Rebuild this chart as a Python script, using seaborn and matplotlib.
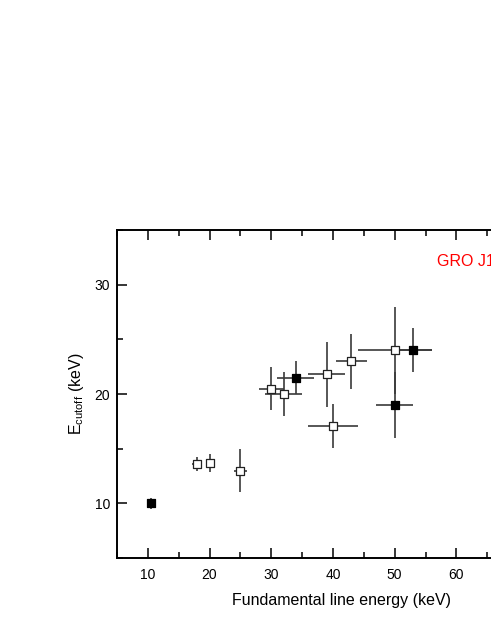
import matplotlib
matplotlib.use("Agg")
import matplotlib.pyplot as plt
import seaborn as sns
import pandas as pd
from matplotlib.ticker import MultipleLocator, FixedLocator

# filled squares
filled_x = [10.5, 34.0, 50.0, 53.0]
filled_xerr = [0.3, 3.0, 3.0, 3.0]
filled_y = [10.0, 21.5, 19.0, 24.0]
filled_yerr = [0.5, 1.5, 3.0, 2.0]

# open squares
open_x = [18.0, 20.0, 25.0, 30.0, 32.0, 39.0, 43.0, 40.0, 50.0]
open_xerr = [0.8, 0.5, 1.1, 2.0, 3.0, 3.0, 2.5, 4.0, 6.0]
open_y = [13.6, 13.7, 13.0, 20.5, 20.0, 21.8, 23.0, 17.1, 24.0]
open_yerr = [0.6, 0.85, 2.0, 2.0, 2.0, 3.0, 2.5, 2.0, 4.0]

x_major_ticks = [10, 20, 30, 40, 50, 60]
source_label = "GRO J1008-57"
xlabel = "Fundamental line energy (keV)"
ylabel = r"E$_{\mathregular{cutoff}}$ (keV)"

sns.set_theme(style="ticks")
plt.rcParams["font.family"] = ["Liberation Sans", "DejaVu Sans"]
plt.rcParams["mathtext.default"] = "regular"

fig = plt.figure(figsize=(4.91, 6.35), dpi=100)
ax = fig.add_axes([117 / 491, 77 / 635, 448 / 491, 328 / 635])

df_f = pd.DataFrame({"x": filled_x, "y": filled_y, "xe": filled_xerr, "ye": filled_yerr})
df_o = pd.DataFrame({"x": open_x, "y": open_y, "xe": open_xerr, "ye": open_yerr})

for d in (df_o, df_f):
    ax.errorbar(d["x"], d["y"], xerr=d["xe"], yerr=d["ye"], fmt="none",
                ecolor="#3a3a3a", elinewidth=1.2, capsize=0, zorder=2)

sns.scatterplot(data=df_o, x="x", y="y", marker="s", s=32, color="white",
                edgecolor="#222222", linewidth=0.9, ax=ax, zorder=3)
sns.scatterplot(data=df_f, x="x", y="y", marker="s", s=34, color="black",
                edgecolor="black", linewidth=0.9, ax=ax, zorder=3)

ax.set_xlim(5, 5 + 448 / 6.17)
ax.set_ylim(5, 35)
ax.xaxis.set_major_locator(FixedLocator(x_major_ticks))
ax.xaxis.set_minor_locator(MultipleLocator(5))
ax.yaxis.set_major_locator(MultipleLocator(10))
ax.yaxis.set_minor_locator(MultipleLocator(5))
ax.tick_params(which="both", direction="in", top=True, right=True,
               width=1.1, color="black", labelsize=10, labelcolor="black")
ax.tick_params(which="major", length=7)
ax.tick_params(which="minor", length=4)
ax.tick_params(axis="x", pad=7)
ax.tick_params(axis="y", pad=5)
for sp in ax.spines.values():
    sp.set_linewidth(1.4)
    sp.set_color("black")

ax.set_xlabel(xlabel, fontsize=11.5, labelpad=8, color="black")
ax.set_ylabel(ylabel, fontsize=11.5, labelpad=6, color="black")
ax.text(56.9, 31.67, source_label, color="#ff0000", fontsize=11.5, va="baseline")

fig.savefig("out.png", dpi=100)
